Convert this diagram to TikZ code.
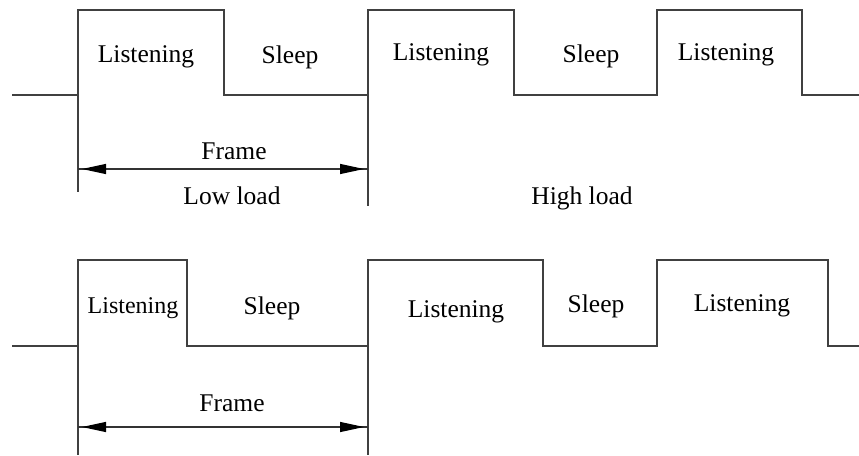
\documentclass[tikz,border=0pt]{standalone}
\usepackage{fontspec}
\setmainfont{Liberation Serif}
\usetikzlibrary{arrows.meta}
\begin{document}
\begin{tikzpicture}[x=1pt,y=-1pt,
  wire/.style={line width=1.4pt,draw=black!75},
  lbl/.style={anchor=base,inner sep=0pt,font=\fontsize{25.5}{30}\selectfont},
  smalllbl/.style={lbl,font=\fontsize{24}{28}\selectfont},
  tip/.style={Triangle[length=24pt,width=10pt,color=black]},
  span/.style={line width=1.2pt,draw=black!80,
    {Triangle[length=24pt,width=10pt,color=black]}-{Triangle[length=24pt,width=10pt,color=black]},
    shorten <=4pt,shorten >=4pt}]
\useasboundingbox (0,0) rectangle (859,455);

% ---------- low load: upper timeline ----------
\draw[wire] (12,95) -- (78,95) -- (78,10) -- (224,10) -- (224,95) -- (368,95)
  -- (368,10) -- (514,10) -- (514,95) -- (657,95) -- (657,10) -- (802,10)
  -- (802,95) -- (859,95);
\coordinate (a1) at (78,169);
\coordinate (a2) at (368,169);
\draw[wire] (78,95) -- (78,192);
\draw[wire] (368,95) -- (368,206);
\draw[line width=1.2pt,draw=black!80] (a1) -- (a2);
\draw[span] (a1) -- (a2);

\node[lbl] (l1) at (146,62) {Listening};
\node[lbl] (s1) at (290,63) {Sleep};
\node[lbl] (l2) at (441,60) {Listening};
\node[lbl] (s2) at (591,62) {Sleep};
\node[lbl] (l3) at (726,60) {Listening};
\node[lbl] (fr1) at (234,159) {Frame};
\node[lbl] (low) at (232,204) {Low load};
\node[lbl] (high) at (582,204) {High load};

% ---------- high load: lower timeline ----------
\draw[wire] (12,346) -- (78,346) -- (78,260) -- (187,260) -- (187,346) -- (368,346)
  -- (368,260) -- (543,260) -- (543,346) -- (657,346) -- (657,260) -- (828,260)
  -- (828,346) -- (859,346);
\coordinate (b1) at (78,427);
\coordinate (b2) at (368,427);
\draw[wire] (78,346) -- (78,455);
\draw[wire] (368,346) -- (368,455);
\draw[line width=1.2pt,draw=black!80] (b1) -- (b2);
\draw[span] (b1) -- (b2);

\node[smalllbl] (m1) at (133,313) {Listening};
\node[lbl] (t1) at (272,314) {Sleep};
\node[lbl] (m2) at (456,317) {Listening};
\node[lbl] (t2) at (596,312) {Sleep};
\node[lbl] (m3) at (742,311) {Listening};
\node[lbl] (fr2) at (232,411) {Frame};
\end{tikzpicture}
\end{document}
